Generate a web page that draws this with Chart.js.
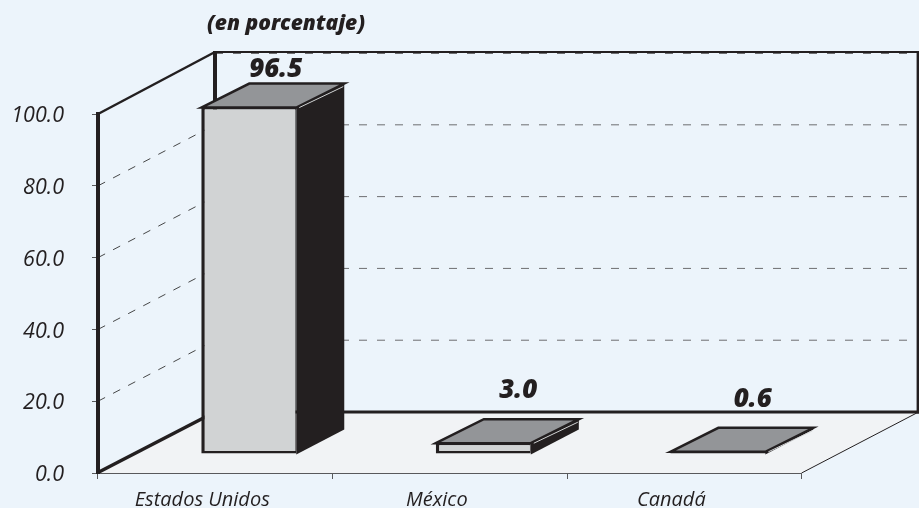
<!DOCTYPE html>
<html><head><meta charset="utf-8">
<style>html,body{margin:0;padding:0;background:#ECF4FB;overflow:hidden}canvas{display:block}</style>
<script src="https://cdn.jsdelivr.net/npm/chart.js@4"></script>
</head><body>
<div style="width:919px;height:508px"><canvas id="c" width="919" height="508"></canvas></div>
<script>
const categories = ["Estados Unidos", "México", "Canadá"];
const values = [96.5, 3.0, 0.6];
const valueTexts = ["96.5", "3.0", "0.6"];
const yTicks = [0, 20, 40, 60, 80, 100];
const titleText = "(en porcentaje)";

const INK = "#231F20", GRID = "#6D6E71", FLOOR = "#F1F3F5";
const WALL = {dx: 117, dy: -61};
const BAR = {dx: 33.5, dy: -19, depthX: 48, depthY: -24};
const PLOT_BOTTOM = 473;
const FONT = "'Open Sans'";

function line(ctx, x1, y1, x2, y2, w, color, dash) {
  ctx.save(); ctx.beginPath(); ctx.moveTo(x1, y1); ctx.lineTo(x2, y2);
  ctx.lineWidth = w; ctx.strokeStyle = color; ctx.setLineDash(dash || []); ctx.stroke(); ctx.restore();
}

const room3d = {
  id: "room3d",
  afterLayout(chart) {
    chart.titleBlock.left = 0; chart.titleBlock.right = 572;
    const x = chart.scales.x, y = chart.scales.y;
    y.bottom = PLOT_BOTTOM; y.height = y.bottom - y.top; y.configure();
    x.top = PLOT_BOTTOM; x.bottom = chart.height; x.height = x.bottom - x.top; x.configure();
    chart.chartArea.bottom = PLOT_BOTTOM; chart.chartArea.height = PLOT_BOTTOM - chart.chartArea.top;
  },
  beforeDraw(chart) {
    const {ctx} = chart, x = chart.scales.x, y = chart.scales.y;
    const L = x.left, R = x.right, B = y.getPixelForValue(0), T = y.getPixelForValue(100);
    const bl = L + WALL.dx, br = R + WALL.dx, bB = B + WALL.dy, bT = T + WALL.dy;
    ctx.save();
    ctx.fillStyle = "#ECF4FB"; ctx.fillRect(0, 0, chart.width, chart.height);
    ctx.beginPath(); ctx.moveTo(L, B); ctx.lineTo(R, B); ctx.lineTo(br, bB); ctx.lineTo(bl, bB); ctx.closePath();
    ctx.fillStyle = FLOOR; ctx.fill();
    yTicks.forEach(v => {
      const p = y.getPixelForValue(v);
      if (v > 0 && v < 100) line(ctx, L, p, L + WALL.dx, p + WALL.dy, 0.9, "#333", [8, 9]);
      if (v > 0) line(ctx, bl, p + WALL.dy, br, p + WALL.dy, v === 100 ? 2 : 1, GRID, [8, 10]);
    });
    line(ctx, R, B, br, bB, 1, INK);
    line(ctx, L, T, bl, bT - 1, 2.5, INK);
    line(ctx, bl, bT - 2, bl, bB, 4, INK);
    line(ctx, bl, bT - 1, br + 2, bT - 1, 2, INK);
    line(ctx, br, bT - 2, br, bB + 1.5, 4, INK);
    line(ctx, bl, bB, br + 2, bB, 3, INK);
    line(ctx, L, B - 0.5, bl, bB, 3.5, INK);
    ctx.restore();
  },
  beforeDatasetDraw(chart) {
    const {ctx} = chart;
    ctx.save();
    ctx.translate(BAR.dx, BAR.dy);
    chart.getDatasetMeta(0).data.forEach(el => {
      const l = el.x - el.width / 2, r = el.x + el.width / 2, t = el.y, b = el.base;
      const dx = BAR.depthX, dy = BAR.depthY;
      ctx.beginPath(); ctx.moveTo(r, t); ctx.lineTo(r + dx, t + dy); ctx.lineTo(r + dx, b + dy); ctx.lineTo(r, b + 1); ctx.closePath();
      ctx.fillStyle = INK; ctx.fill();
      ctx.beginPath(); ctx.moveTo(l, t); ctx.lineTo(l + dx, t + dy); ctx.lineTo(r + dx, t + dy); ctx.lineTo(r, t); ctx.closePath();
      ctx.fillStyle = "#939598"; ctx.fill();
      ctx.lineWidth = 2.5; ctx.strokeStyle = INK; ctx.lineJoin = "miter"; ctx.stroke();
      line(ctx, r + 3, t, r + dx - 1, t + dy + 3, 1, "#D1D3D4");
    });
  },
  afterDatasetDraw(chart) {
    const {ctx} = chart;
    ctx.restore();
    ctx.save();
    ctx.fillStyle = INK; ctx.textAlign = "center"; ctx.textBaseline = "alphabetic";
    ctx.font = "italic 800 26px " + FONT;
    chart.getDatasetMeta(0).data.forEach((el, i) => {
      const tall = values[i] > 50;
      const px = el.x + BAR.dx + (tall ? 27 : 35);
      const py = el.y + BAR.dy - (tall ? 31 : 45);
      ctx.fillText(valueTexts[i], px, py);
    });
    ctx.restore();
  }
};

new Chart(document.getElementById("c"), {
  type: "bar",
  data: {
    labels: categories,
    datasets: [{
      data: values,
      backgroundColor: "#D1D3D4",
      borderColor: INK,
      borderWidth: {left: 3.5, top: 2, bottom: 2.5, right: 1},
      borderSkipped: false,
      barPercentage: 0.405,
      categoryPercentage: 1,
      clip: false
    }]
  },
  options: {
    responsive: false,
    animation: false,
    events: [],
    layout: {padding: {top: 0, right: 117.4, bottom: 0, left: 0}},
    plugins: {
      legend: {display: false},
      tooltip: {enabled: false},
      title: {
        display: true, text: titleText, color: INK, align: "center",
        font: {family: FONT, size: 21, weight: "800", style: "italic", lineHeight: 1.32},
        padding: {top: 10, bottom: 76.3}
      }
    },
    scales: {
      x: {
        afterFit(s) { s.height = 35; },
        offset: true,
        grid: {display: true, drawOnChartArea: false, drawTicks: true, tickLength: 6, color: "#58595B", lineWidth: 1, offset: true},
        border: {display: true, color: "#58595B", width: 1},
        ticks: {color: INK, font: {family: FONT, size: 20, style: "italic"}, padding: 9, labelOffset: -13, maxRotation: 0}
      },
      y: {
        afterFit(s) { s.width = 98; },
        min: 0, max: 100,
        afterBuildTicks(s) { s.ticks = yTicks.map(v => ({value: v})); },
        grid: {display: true, drawOnChartArea: false, drawTicks: true, tickLength: 6, color: "#58595B", lineWidth: 1},
        border: {display: true, color: INK, width: 4},
        ticks: {color: INK, font: {family: FONT, size: 21.5, style: "italic"}, padding: 28, labelOffset: 2, callback: v => Number(v).toFixed(1)}
      }
    }
  },
  plugins: [room3d]
});
</script>
</body></html>
